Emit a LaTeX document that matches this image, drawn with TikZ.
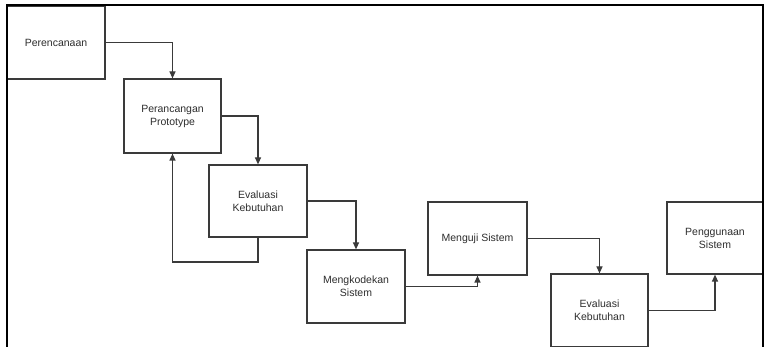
\documentclass[tikz,border=0pt]{standalone}
\usepackage{fontspec}
\setmainfont{Liberation Sans}
\usetikzlibrary{arrows.meta}
\definecolor{boxline}{HTML}{3A3A3A}
\definecolor{txt}{HTML}{2E2E2E}
\tikzset{
  box/.style={draw=boxline, line width=1.2pt, rectangle, align=center, inner sep=0pt,
    font=\fontsize{10.5}{13}\selectfont, text=txt},
  conn/.style={draw=boxline, line width=1.2pt, -{Triangle[length=7pt,width=6pt]}},
  plain/.style={draw=boxline, line width=1.2pt},
  frame/.style={draw=black, line width=2.2pt}
}
\begin{document}
\begin{tikzpicture}[x=1pt,y=-1pt]
\useasboundingbox (0,0) rectangle (766,347);
\fill[white] (0,0) rectangle (766,347);
\node[box, minimum width=98pt, minimum height=73pt] (b1) at (56,42.5) {Perencanaan};
\node[box, minimum width=97pt, minimum height=74pt] (b2) at (172.5,116) {Perancangan\\Prototype};
\node[box, minimum width=98pt, minimum height=72pt] (b3) at (258,201) {Evaluasi\\Kebutuhan};
\node[box, minimum width=98pt, minimum height=73pt] (b4) at (356,286.5) {Mengkodekan\\Sistem};
\node[box, minimum width=99pt, minimum height=73pt] (b5) at (477.5,238.5) {Menguji Sistem};
\node[box, minimum width=97pt, minimum height=73pt] (b6) at (599.5,310.5) {Evaluasi\\Kebutuhan};
\node[box, minimum width=96pt, minimum height=72pt] (b7) at (715,238) {Penggunaan\\Sistem};
\coordinate (fb) at (258,262);
\draw[conn] (b1.east) -| (b2.north);
\draw[conn] (b2.east) -| (b3.north);
\draw[conn] (b3.east) -| (b4.north);
\draw[conn] (b3.south) -- (fb) -| (b2.south);
\draw[conn] (b4.east) -| (b5.south);
\draw[conn] (b5.east) -| (b6.north);
\draw[conn] (b6.east) -| (b7.south);
\coordinate (f1) at (7,347);
\coordinate (f2) at (7,5);
\coordinate (f3) at (763,5);
\coordinate (f4) at (763,347);
\draw[frame] (f1) -- (f2) -- (f3) -- (f4);
\end{tikzpicture}
\end{document}
